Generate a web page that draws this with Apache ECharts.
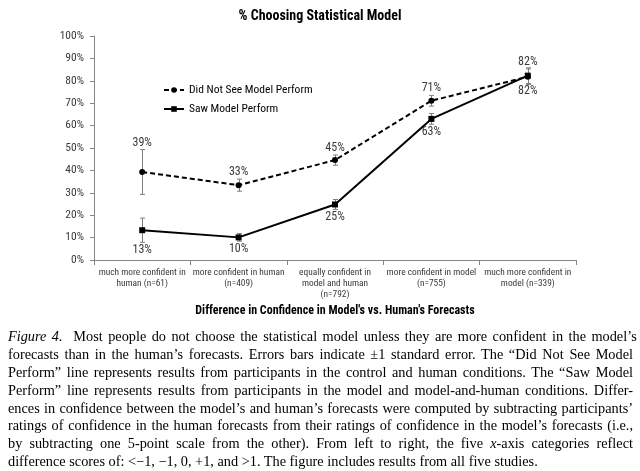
<!DOCTYPE html>
<html><head><meta charset="utf-8">
<script src="https://cdn.jsdelivr.net/npm/echarts@6/dist/echarts.min.js"></script>
<style>
html,body{margin:0;padding:0;background:#fff;}
#wrap{position:relative;width:640px;height:471px;overflow:hidden;background:#fff;}
#chart{position:absolute;left:0;top:0;width:640px;height:471px;}
#caption{position:absolute;left:8px;top:328px;width:625px;font-family:'Liberation Serif','Times New Roman',serif;font-size:14.3px;line-height:17.9px;color:#000;}
#caption .ln{white-space:nowrap;display:block;height:17.9px;}
#caption .ln span{display:inline-block;white-space:nowrap;}
</style></head>
<body><div id="wrap"><div id="chart"></div><div id="caption"></div></div>
<script>
// ---- data ----
const categories = [
  'much more confident in\nhuman (n=61)',
  'more confident in human\n(n=409)',
  'equally confident in\nmodel and human\n(n=792)',
  'more confident in model\n(n=755)',
  'much more confident in\nmodel (n=339)'
];
const didNotSee    = [39.3, 33.4, 44.6, 71.1, 81.8];
const didNotSeeErr = [10.0, 2.7, 2.3, 2.4, 3.5];
const saw          = [13.3, 10.1, 24.8, 63.0, 82.3];
const sawErr       = [5.4, 1.7, 2.2, 2.4, 3.5];
const seriesNames  = ['Did Not See Model Perform', 'Saw Model Perform'];
const chartTitle   = '% Choosing Statistical Model';
const xTitle       = "Difference in Confidence in Model's vs. Human's Forecasts";
const captionLines = [
  '<i>Figure 4.</i>&nbsp;&nbsp;Most people do not choose the statistical model unless they are more confident in the model\u2019s',
  'forecasts than in the human\u2019s forecasts. Errors bars indicate \u00b11 standard error. The \u201cDid Not See Model',
  'Perform\u201d line represents results from participants in the control and human conditions. The \u201cSaw Model',
  'Perform\u201d line represents results from participants in the model and model-and-human conditions. Differ-',
  'ences in confidence between the model\u2019s and human\u2019s forecasts were computed by subtracting participants\u2019',
  'ratings of confidence in the human forecasts from their ratings of confidence in the model\u2019s forecasts (i.e.,',
  'by subtracting one 5-point scale from the other). From left to right, the five <i>x</i>-axis categories reflect',
  'difference scores of: &lt;\u22121, \u22121, 0, +1, and &gt;1. The figure includes results from all five studies.'
];

// ---- caption ----
const cap = document.getElementById('caption');
captionLines.forEach((html, i) => {
  const div = document.createElement('div'); div.className = 'ln';
  const span = document.createElement('span'); span.innerHTML = html;
  div.appendChild(span); cap.appendChild(div);
  const target = 625;
  const w = span.getBoundingClientRect().width;
  const txt = span.textContent;
  if (i < captionLines.length - 1) {
    const spaces = (txt.match(/ /g) || []).length;
    const diff = target - w;
    if (diff >= 0) span.style.wordSpacing = (diff / spaces) + 'px';
    else span.style.letterSpacing = (diff / txt.length) + 'px';
  } else if (w > 578) {
    span.style.letterSpacing = ((578 - w) / txt.length) + 'px';
  }
});

// ---- chart ----
const FONT = "'Liberation Sans Narrow', 'Roboto Condensed', Roboto, sans-serif";
const AXIS = '#868686';
function errRender(labelPos) {
  return function (params, api) {
    const i = api.value(0), v = api.value(1), e = api.value(2);
    const c = api.coord([i, v]);
    const t = api.coord([i, v + e]);
    const b = api.coord([i, v - e]);
    const x = Math.round(c[0]) + 0.5, cw = 2.5;
    const st = { stroke: '#7f7f7f', lineWidth: 1 };
    return {
      type: 'group',
      children: [
        { type: 'line', shape: { x1: x, y1: t[1], x2: x, y2: b[1] }, style: st },
        { type: 'line', shape: { x1: x - cw, y1: t[1], x2: x + cw, y2: t[1] }, style: st },
        { type: 'line', shape: { x1: x - cw, y1: b[1], x2: x + cw, y2: b[1] }, style: st },
        { type: 'text', style: {
            text: Math.round(v) + '%', x: c[0], y: labelPos === 'top' ? t[1] - 7 : b[1] + 7.5,
            align: 'center', verticalAlign: 'middle', fontFamily: FONT, fontSize: 12, fill: '#3a3a3a' } }
      ]
    };
  };
}
const chart = echarts.init(document.getElementById('chart'), null, { renderer: 'canvas' });
chart.setOption({
  animation: false,
  backgroundColor: 'transparent',
  textStyle: { fontFamily: FONT },
  title: { text: chartTitle, left: 'center', top: 4,
    textStyle: { fontFamily: FONT, fontSize: 14, fontWeight: 'bold', color: '#000' } },
  legend: { orient: 'vertical', left: 158, top: 79, itemWidth: 20, itemHeight: 7, itemGap: 7,
    data: seriesNames, textStyle: { fontFamily: FONT, fontSize: 11.5, color: '#000' } },
  grid: { left: 94, top: 36, width: 482, height: 224 },
  xAxis: {
    type: 'category', data: categories, boundaryGap: true,
    axisLine: { lineStyle: { color: AXIS } },
    axisTick: { show: true, interval: 0, length: 5, lineStyle: { color: AXIS } },
    axisLabel: { interval: 0, fontFamily: FONT, fontSize: 9.4, color: '#3a3a3a', lineHeight: 11, margin: 7 },
    name: xTitle, nameLocation: 'middle', nameGap: 45,
    nameTextStyle: { fontFamily: FONT, fontSize: 12, fontWeight: 'bold', color: '#000' }
  },
  yAxis: {
    type: 'value', min: 0, max: 100, interval: 10,
    axisLine: { show: true, lineStyle: { color: AXIS } },
    axisTick: { show: true, length: 4, lineStyle: { color: AXIS } },
    splitLine: { show: false },
    axisLabel: { formatter: '{value}%', fontFamily: FONT, fontSize: 11.5, color: '#3a3a3a', margin: 10 }
  },
  series: [
    { type: 'custom', name: 'errA', renderItem: errRender('top'), clip: false, z: 1,
      data: didNotSee.map((v, i) => [i, v, didNotSeeErr[i]]) },
    { type: 'custom', name: 'errB', renderItem: errRender('bottom'), clip: false, z: 1,
      data: saw.map((v, i) => [i, v, sawErr[i]]) },
    { type: 'line', name: seriesNames[0], data: didNotSee, symbol: 'circle', symbolSize: 6, z: 3,
      lineStyle: { color: '#000', width: 2, type: [5, 3] }, itemStyle: { color: '#000' } },
    { type: 'line', name: seriesNames[1], data: saw, symbol: 'rect', symbolSize: 6, z: 3,
      lineStyle: { color: '#000', width: 2 }, itemStyle: { color: '#000' } }
  ]
});
</script>
</body></html>
